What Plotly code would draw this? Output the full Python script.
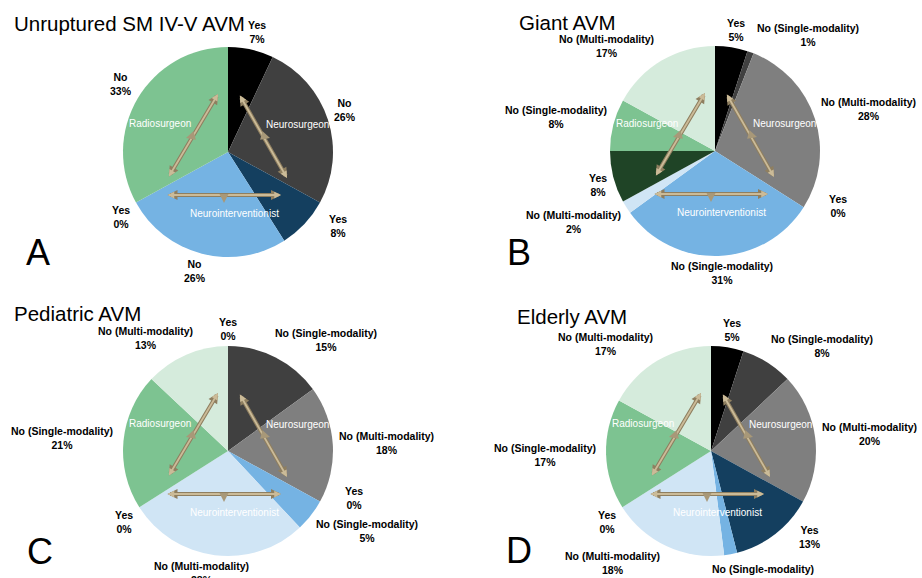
import math
import plotly.graph_objects as go

# ---------------- data ----------------
titles = ["Unruptured SM IV-V AVM", "Giant AVM", "Pediatric AVM", "Elderly AVM"]
letters = ["A", "B", "C", "D"]

labels_A = ["Yes", "No", "Yes", "No", "Yes", "No"]
groups_A = ["Neurosurgeon", "Neurosurgeon", "Neurointerventionist",
            "Neurointerventionist", "Radiosurgeon", "Radiosurgeon"]
values_A = [7, 26, 8, 26, 0, 33]

labels_full = ["Yes", "No (Single-modality)", "No (Multi-modality)"] * 3
groups_full = ["Neurosurgeon"] * 3 + ["Neurointerventionist"] * 3 + ["Radiosurgeon"] * 3
values_B = [5, 1, 28, 0, 31, 2, 8, 8, 17]
values_C = [0, 15, 18, 0, 5, 28, 0, 21, 13]
values_D = [5, 8, 20, 13, 2, 18, 0, 17, 17]

role_labels = ["Radiosurgeon", "Neurosurgeon", "Neurointerventionist"]

# ---------------- styles ----------------
BLACK = "#000000"
DGRAY = "#404040"
GRAY = "#7f7f7f"
NAVY = "#143f5f"
LBLUE = "#75b3e3"
VLBLUE = "#d0e5f5"
DGREEN = "#1f4426"
GREEN = "#7dc391"
VLGREEN = "#d5ebdc"

colors_A = [BLACK, DGRAY, NAVY, LBLUE, DGREEN, GREEN]
colors_full = [BLACK, DGRAY, GRAY, NAVY, LBLUE, VLBLUE, DGREEN, GREEN, VLGREEN]

panels = [
    (labels_A, groups_A, values_A, colors_A),
    (labels_full, groups_full, values_B, colors_full),
    (labels_full, groups_full, values_C, colors_full),
    (labels_full, groups_full, values_D, colors_full),
]

W, H = 922, 578
R = 105
centers = [(228, 152), (715, 151), (228, 451), (711, 451)]
title_pos = [(12, 24), (517, 22), (12, 313), (515, 316)]
letter_pos = [(38, 252), (519, 253), (40, 551), (519, 550)]

FONT = "Liberation Sans, Arial, Helvetica, sans-serif"
LABEL_SIZE = 10.5
ARROW_EDGE = "#8f7f60"
ARROW_FILL = "#cbbb98"

# small placement nudges (px) for a few labels, keyed by (panel, slice)
nudges = {
    (0, 2): (19, -14),
    (1, 1): (20, 0),
    (1, 3): (19, -16),
    (1, 8): (-3, 2),
    (2, 3): (19, -18),
    (2, 7): (-4, 0),
    (3, 3): (20, -13),
    (3, 4): (12, 4),
    (3, 5): (-10, 0),
    (3, 7): (-4, 0),
}

# approx Arial Bold widths (em)
CW = {"N": .722, "o": .611, " ": .278, "(": .333, ")": .333, "M": .833,
      "u": .611, "l": .278, "t": .333, "i": .278, "-": .333, "m": .889,
      "d": .611, "a": .556, "y": .556, "S": .667, "n": .611, "g": .611,
      "e": .556, "Y": .667, "s": .556, "%": .889}


def text_w(s, size):
    return sum(CW.get(c, .556) for c in s) * size


def px(x):
    return x / W


def py(y):
    return 1 - y / H


fig = go.Figure()
annotations = []

for p, (labs, grps, vals, cols) in enumerate(panels):
    cx, cy = centers[p]
    fig.add_trace(go.Pie(
        labels=[f"{g}: {l}" for g, l in zip(grps, labs)],
        values=vals,
        marker=dict(colors=cols, line=dict(width=0)),
        sort=False,
        direction="clockwise",
        rotation=0,
        textinfo="none",
        hoverinfo="label+value",
        showlegend=False,
        domain=dict(x=[px(cx - R), px(cx + R)], y=[py(cy + R), py(cy - R)]),
    ))

    total = sum(vals)
    cum = 0
    for k, (l, v) in enumerate(zip(labs, vals)):
        mid = (cum + v / 2) / total * 2 * math.pi
        cum += v
        dx, dy = math.sin(mid), -math.cos(mid)
        hw = max(text_w(l, LABEL_SIZE), text_w(f"{v}%", LABEL_SIZE)) / 2 + 1.5
        hh = 12.5
        ox = dx * (R + 5) + hw * max(-1, min(1, 2 * dx))
        oy = dy * (R + 5) + hh * max(-1, min(1, 2 * dy))
        nx, ny = nudges.get((p, k), (0, 0))
        annotations.append(dict(
            x=px(cx + ox + nx), y=py(cy + oy + ny), xref="paper", yref="paper",
            text=f"<b>{l}<br>{v}%</b>", showarrow=False,
            xanchor="center", yanchor="middle", align="center",
            font=dict(family=FONT, size=LABEL_SIZE, color="#000000"),
        ))

    # inner role labels
    for name, (gx, gy) in zip(role_labels, [(-68, -28), (69, -27), (6, 61)]):
        annotations.append(dict(
            x=px(cx + gx), y=py(cy + gy), xref="paper", yref="paper",
            text=name, showarrow=False, xanchor="center", yanchor="middle",
            font=dict(family=FONT, size=10, color="#ffffff"),
        ))

    # double-headed arrows between roles (outlined: dark edge + light fill)
    for (x0, y0), (x1, y1) in [((-60, 26), (-10, -58)),
                               ((11, -58), (59, 26)),
                               ((-62, 43), (53, 43))]:
        for col, wdt, sz in [(ARROW_EDGE, 4, 0.5), (ARROW_FILL, 1.8, 0.75)]:
            annotations.append(dict(
                x=px(cx + x1), y=py(cy + y1), xref="paper", yref="paper",
                ax=x0 - x1, ay=y0 - y1, axref="pixel", ayref="pixel",
                text="", showarrow=True, arrowhead=2, arrowsize=sz,
                arrowwidth=wdt, arrowcolor=col, arrowside="end+start",
            ))
    # small stubs at mid-points
    for (sx, sy), (tx, ty) in [((-35, -16), (-42, -14)),
                               ((35, -16), (42, -14)),
                               ((-4, 43), (-4, 51))]:
        annotations.append(dict(
            x=px(cx + tx), y=py(cy + ty), xref="paper", yref="paper",
            ax=sx - tx, ay=sy - ty, axref="pixel", ayref="pixel",
            text="", showarrow=True, arrowhead=2, arrowsize=0.9,
            arrowwidth=2, arrowcolor="#a89878",
        ))

    # title
    tx, ty = title_pos[p]
    annotations.append(dict(
        x=px(tx), y=py(ty), xref="paper", yref="paper", text=titles[p],
        showarrow=False, xanchor="left", yanchor="middle",
        font=dict(family=FONT, size=20.5, color="#000000"),
    ))
    lx, ly = letter_pos[p]
    annotations.append(dict(
        x=px(lx), y=py(ly), xref="paper", yref="paper", text=letters[p],
        showarrow=False, xanchor="center", yanchor="middle",
        font=dict(family=FONT, size=36, color="#000000"),
    ))

fig.update_layout(
    width=W, height=H,
    margin=dict(l=0, r=0, t=0, b=0),
    paper_bgcolor="#ffffff",
    plot_bgcolor="#ffffff",
    annotations=annotations,
    showlegend=False,
)

fig.write_html(
    "out.html",
    config={"displayModeBar": False},
    post_script="document.body.style.margin='0';document.body.style.overflow='hidden';",
)
